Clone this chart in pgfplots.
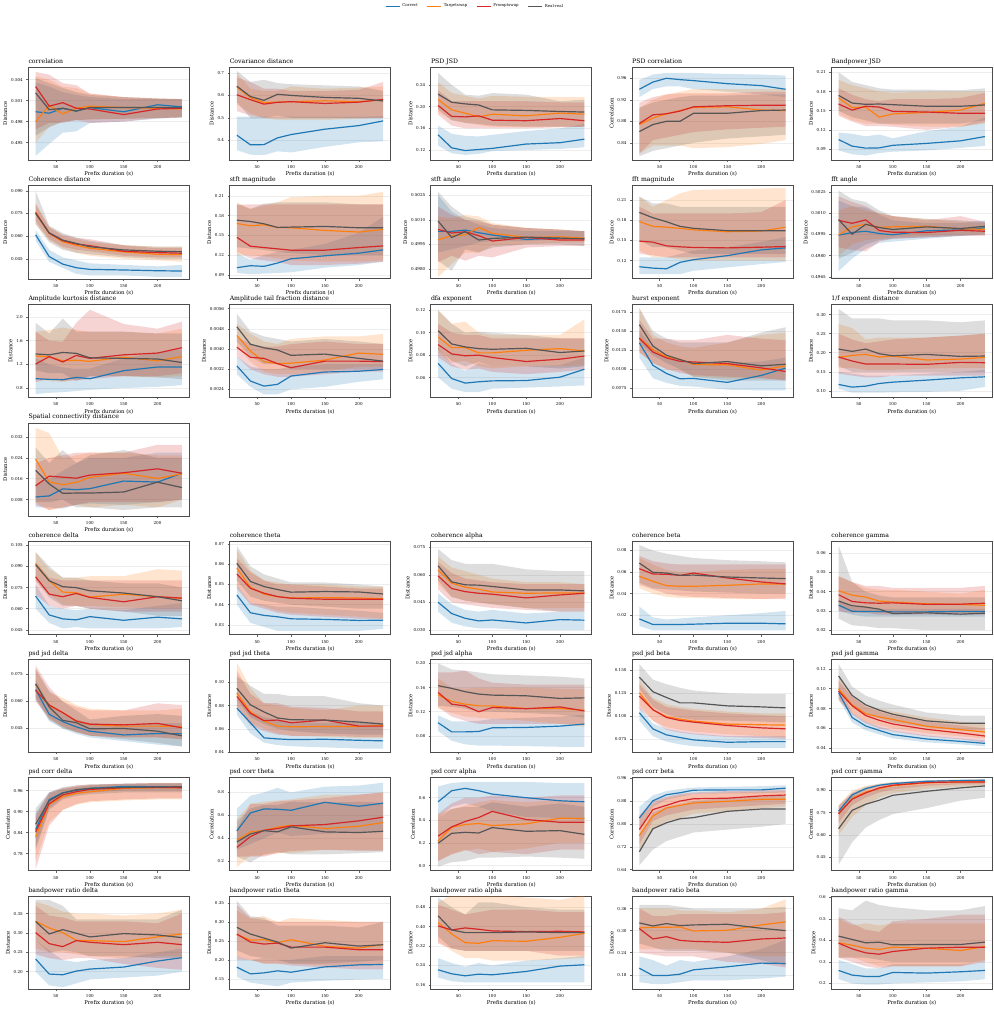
\documentclass[border=0pt]{standalone}
\usepackage{fontspec}
\setmainfont{DejaVu Serif}
\usepackage{pgfplots}
\usepackage{pgfplotstable}
\pgfplotsset{compat=1.18}
\usepgfplotslibrary{fillbetween}

\definecolor{cC}{HTML}{1F77B4}
\definecolor{cT}{HTML}{FF7F0E}
\definecolor{cP}{HTML}{D62728}
\definecolor{cR}{HTML}{555555}

\pgfplotsset{
  base/.style={
    width=161.5pt, height=93.4pt, scale only axis, anchor=north west,
    xmin=9.2, xmax=246.8, xtick={50,100,150,200},
    axis line style={draw=black!70, line width=0.8pt},
    tick style={draw=black!60, line width=0.5pt},
    tick align=outside, major tick length=2pt,
    xtick pos=lower, ytick pos=left,
    ymajorgrids, grid style={black!7, line width=0.5pt},
    tick label style={font=\fontsize{4.1}{4.5}\selectfont},
    label style={font=\fontsize{5.3}{6}\selectfont},
    xlabel={Prefix duration (s)},
    xlabel style={yshift=3.8pt},
    ylabel style={yshift=-3pt},
    every axis title/.style={at={(0,1)}, anchor=base west, yshift=4pt,
      inner sep=0pt, font=\fontsize{6.2}{7}\selectfont},
    /pgf/number format/assume math mode=true,
    scaled y ticks=false,
    legend image code/.code={\draw[#1] (0pt,0pt) -- (14pt,0pt);},
  },
  ln/.style={line width=1.2pt},
}

\newcommand{\band}[4]{%
  \addplot[draw=none, forget plot, name path=#2] table[x=x,y=#2]{#1};
  \addplot[draw=none, forget plot, name path=#3] table[x=x,y=#3]{#1};
  \addplot[fill=#4, fill opacity=0.2, draw=none, forget plot] fill between[of=#2 and #3];
}

% #1 left, #2 top, #3 title, #4 ylabel, #5 ymin, #6 ymax, #7 ticks, #8 table, #9 extra
\newcommand{\panel}[9]{%
  \begin{axis}[base, at={(#1pt,-#2pt)}, title={#3}, ylabel={#4},
    ymin=#5, ymax=#6, ytick={#7}, yticklabels={#7}, #9]
    \band{#8}{cl}{ch}{cC}
    \band{#8}{tl}{th}{cT}
    \band{#8}{pl}{ph}{cP}
    \band{#8}{rl}{rh}{cR}
    \addplot[ln, cC] table[x=x,y=c]{#8};
    \addplot[ln, cT] table[x=x,y=t]{#8};
    \addplot[ln, cP] table[x=x,y=p]{#8};
    \addplot[ln, cR] table[x=x,y=r]{#8};
  \end{axis}}

% columns: x c t p r cl ch tl th pl ph rl rh
\pgfplotstableread{
x c t p r cl ch tl th pl ph rl rh
20 0.4994 0.4980 0.5030 0.5021 0.4931 0.5036 0.4950 0.5045 0.4969 0.5051 0.4960 0.5042
40 0.4992 0.5003 0.5002 0.4997 0.4948 0.5030 0.4972 0.5040 0.4978 0.5047 0.4972 0.5035
60 0.4999 0.4991 0.5007 0.4999 0.4964 0.5022 0.4980 0.5030 0.4978 0.5035 0.4980 0.5028
80 0.4995 0.4999 0.4999 0.4995 0.4966 0.5018 0.4982 0.5028 0.4982 0.5032 0.4982 0.5022
100 0.5000 0.5002 0.4998 0.5000 0.4978 0.5015 0.4983 0.5020 0.4978 0.5020 0.4983 0.5018
150 0.4994 0.5000 0.4990 0.5000 0.4980 0.5012 0.4984 0.5015 0.4980 0.5015 0.4984 0.5015
200 0.5004 0.4999 0.4998 0.5000 0.4984 0.5012 0.4985 0.5013 0.4985 0.5013 0.4985 0.5013
236 0.5001 0.4998 0.4999 0.5000 0.4986 0.5012 0.4986 0.5012 0.4986 0.5012 0.4986 0.5012
}\dA
\pgfplotstableread{
x c t p r cl ch tl th pl ph rl rh
20 0.422 0.638 0.603 0.641 0.355 0.505 0.56 0.70 0.53 0.68 0.57 0.71
40 0.379 0.590 0.581 0.595 0.335 0.505 0.52 0.63 0.51 0.66 0.50 0.66
60 0.380 0.568 0.561 0.578 0.333 0.505 0.50 0.62 0.50 0.63 0.50 0.67
80 0.410 0.570 0.569 0.605 0.350 0.505 0.49 0.62 0.50 0.63 0.51 0.655
100 0.425 0.572 0.572 0.600 0.345 0.505 0.49 0.64 0.50 0.62 0.50 0.65
150 0.449 0.576 0.564 0.591 0.370 0.505 0.49 0.63 0.50 0.62 0.50 0.645
200 0.465 0.572 0.570 0.587 0.390 0.505 0.495 0.635 0.50 0.625 0.50 0.64
236 0.486 0.580 0.582 0.575 0.395 0.507 0.50 0.64 0.50 0.66 0.50 0.62
}\dB
\pgfplotstableread{
x c t p r cl ch tl th pl ph rl rh
20 0.148 0.213 0.202 0.223 0.128 0.165 0.19 0.245 0.185 0.23 0.195 0.262
40 0.124 0.194 0.182 0.208 0.114 0.150 0.175 0.225 0.165 0.21 0.175 0.24
60 0.119 0.188 0.181 0.205 0.111 0.146 0.17 0.22 0.16 0.21 0.17 0.222
80 0.121 0.181 0.183 0.203 0.113 0.145 0.166 0.215 0.16 0.21 0.168 0.22
100 0.123 0.186 0.175 0.194 0.118 0.148 0.163 0.22 0.16 0.21 0.165 0.225
150 0.131 0.183 0.174 0.193 0.120 0.155 0.162 0.218 0.16 0.21 0.163 0.222
200 0.1335 0.188 0.178 0.191 0.122 0.160 0.162 0.218 0.162 0.208 0.163 0.21
236 0.140 0.186 0.174 0.190 0.125 0.168 0.163 0.218 0.163 0.208 0.163 0.213
}\dC
\pgfplotstableread{
x c t p r cl ch tl th pl ph rl rh
20 0.9396 0.874 0.876 0.861 0.925 0.957 0.82 0.905 0.82 0.915 0.815 0.905
40 0.953 0.886 0.892 0.874 0.94 0.967 0.835 0.92 0.845 0.925 0.825 0.915
60 0.960 0.894 0.894 0.880 0.945 0.97 0.835 0.93 0.85 0.93 0.83 0.92
80 0.9575 0.900 0.899 0.880 0.945 0.97 0.835 0.935 0.855 0.932 0.835 0.925
100 0.9557 0.906 0.907 0.895 0.94 0.97 0.83 0.94 0.86 0.932 0.84 0.928
150 0.950 0.907 0.909 0.895 0.935 0.968 0.832 0.94 0.865 0.932 0.848 0.928
200 0.9464 0.901 0.910 0.900 0.93 0.967 0.838 0.94 0.868 0.935 0.852 0.93
236 0.9396 0.900 0.910 0.901 0.925 0.965 0.845 0.94 0.87 0.935 0.855 0.93
}\dD
\pgfplotstableread{
x c t p r cl ch tl th pl ph rl rh
20 0.105 0.170 0.1605 0.174 0.088 0.116 0.145 0.198 0.142 0.185 0.15 0.21
40 0.0947 0.155 0.151 0.162 0.082 0.114 0.135 0.19 0.133 0.175 0.14 0.195
60 0.0916 0.1557 0.157 0.160 0.080 0.110 0.13 0.185 0.126 0.168 0.135 0.19
80 0.092 0.140 0.1557 0.1605 0.084 0.113 0.13 0.18 0.126 0.165 0.13 0.185
100 0.096 0.145 0.149 0.1595 0.086 0.107 0.128 0.178 0.125 0.168 0.13 0.183
150 0.099 0.1474 0.148 0.157 0.088 0.118 0.125 0.18 0.12 0.168 0.13 0.183
200 0.103 0.151 0.146 0.157 0.092 0.125 0.125 0.18 0.125 0.17 0.13 0.182
236 0.1097 0.1614 0.146 0.159 0.095 0.14 0.13 0.18 0.132 0.178 0.135 0.185
}\dE
\pgfplotstableread{
x c t p r cl ch tl th pl ph rl rh
20 0.0609 0.076 0.0755 0.075 0.057 0.064 0.068 0.082 0.070 0.081 0.068 0.090
40 0.0465 0.0618 0.062 0.0622 0.043 0.051 0.057 0.066 0.058 0.066 0.056 0.067
60 0.0415 0.0563 0.057 0.0574 0.039 0.046 0.052 0.060 0.053 0.061 0.051 0.062
80 0.0391 0.0539 0.0548 0.0552 0.035 0.044 0.049 0.058 0.051 0.059 0.049 0.059
100 0.038 0.052 0.0537 0.053 0.034 0.042 0.047 0.056 0.050 0.058 0.048 0.057
150 0.0376 0.0496 0.050 0.0509 0.034 0.041 0.045 0.054 0.047 0.054 0.046 0.054
200 0.0371 0.048 0.0491 0.050 0.033 0.040 0.044 0.053 0.046 0.052 0.045 0.053
236 0.0369 0.0478 0.0487 0.0497 0.033 0.041 0.043 0.053 0.046 0.052 0.045 0.053
}\dF
\pgfplotstableread{
x c t p r cl ch tl th pl ph rl rh
20 0.101 0.168 0.147 0.173 0.093 0.123 0.12 0.20 0.125 0.196 0.132 0.198
40 0.104 0.1645 0.1335 0.171 0.091 0.113 0.12 0.19 0.115 0.197 0.13 0.19
60 0.103 0.166 0.1315 0.1675 0.092 0.12 0.118 0.195 0.112 0.197 0.128 0.198
80 0.108 0.162 0.1295 0.162 0.093 0.125 0.115 0.20 0.11 0.197 0.125 0.2
100 0.1145 0.1615 0.1275 0.1625 0.094 0.128 0.112 0.208 0.105 0.197 0.123 0.2
150 0.119 0.1575 0.1275 0.1635 0.101 0.137 0.11 0.21 0.105 0.197 0.12 0.2
200 0.123 0.155 0.1315 0.1615 0.105 0.154 0.11 0.21 0.107 0.197 0.12 0.197
236 0.128 0.159 0.134 0.1615 0.11 0.178 0.112 0.216 0.11 0.197 0.12 0.197
}\dG
\pgfplotstableread{
x c t p r cl ch tl th pl ph rl rh
20 0.50029 0.49978 0.50041 0.50092 0.4990 0.5025 0.4975 0.5012 0.4984 0.5018 0.4985 0.5027
40 0.50029 0.50003 0.50019 0.49992 0.4992 0.5015 0.4983 0.5011 0.4988 0.5013 0.4979 0.5018
60 0.50037 0.50007 0.50027 0.50027 0.4994 0.5010 0.4990 0.5013 0.4985 0.5010 0.4992 0.5012
80 0.50021 0.50053 0.50003 0.49976 0.4996 0.5007 0.4990 0.5012 0.4988 0.5009 0.4990 0.5010
100 0.50007 0.50017 0.49970 0.49986 0.4997 0.5005 0.4994 0.5008 0.4987 0.5007 0.4993 0.5007
150 0.49980 0.49992 0.49992 0.49994 0.4997 0.5003 0.4995 0.5005 0.4993 0.5005 0.4995 0.5005
200 0.49988 0.49996 0.49976 0.49988 0.4998 0.5003 0.4996 0.5004 0.4994 0.5004 0.4995 0.5004
236 0.49986 0.49988 0.49976 0.49984 0.4998 0.5003 0.4996 0.5003 0.4994 0.5003 0.4994 0.5003
}\dH
\pgfplotstableread{
x c t p r cl ch tl th pl ph rl rh
20 0.111 0.178 0.149 0.1916 0.10 0.125 0.135 0.215 0.13 0.20 0.15 0.215
40 0.109 0.171 0.1475 0.1837 0.10 0.125 0.125 0.20 0.128 0.19 0.14 0.205
60 0.108 0.1697 0.142 0.1778 0.10 0.125 0.125 0.21 0.125 0.19 0.14 0.205
80 0.1175 0.168 0.1406 0.1709 0.10 0.13 0.122 0.22 0.125 0.19 0.135 0.2
100 0.1215 0.1657 0.1396 0.168 0.105 0.135 0.12 0.225 0.125 0.19 0.13 0.2
150 0.1275 0.163 0.139 0.1645 0.11 0.14 0.12 0.226 0.125 0.19 0.13 0.2
200 0.136 0.164 0.140 0.1645 0.115 0.148 0.12 0.227 0.125 0.192 0.13 0.2
236 0.139 0.1697 0.141 0.1645 0.118 0.155 0.12 0.228 0.125 0.21 0.13 0.2
}\dI
\pgfplotstableread{
x c t p r cl ch tl th pl ph rl rh
20 0.49945 0.49948 0.50050 0.50055 0.4969 0.5019 0.4980 0.5012 0.4986 0.5022 0.4978 0.5026
40 0.49964 0.50004 0.50029 0.49952 0.4978 0.5015 0.4988 0.5015 0.4984 0.5018 0.4982 0.5020
60 0.49973 0.50022 0.50053 0.50022 0.4985 0.5014 0.4991 0.5012 0.4983 0.5015 0.4988 0.5018
80 0.49957 0.50001 0.49978 0.49999 0.4989 0.5009 0.4992 0.5010 0.4990 0.5010 0.4991 0.5012
100 0.49948 0.50004 0.49966 0.49985 0.4990 0.5005 0.4993 0.5008 0.4992 0.5008 0.4992 0.5008
150 0.49976 0.50008 0.49964 0.50004 0.4992 0.5003 0.4994 0.5006 0.4993 0.5005 0.4993 0.5006
200 0.49983 0.49990 0.49980 0.49992 0.4994 0.5003 0.4995 0.5004 0.4994 0.5008 0.4994 0.5005
236 0.49997 0.49987 0.49973 0.50008 0.4995 0.5005 0.4995 0.5003 0.4994 0.5004 0.4995 0.5004
}\dJ
\pgfplotstableread{
x c t p r cl ch tl th pl ph rl rh
20 0.958 1.34 1.205 1.375 0.70 1.30 0.95 1.75 0.90 1.75 1.10 1.90
40 0.947 1.33 1.33 1.36 0.72 1.20 0.92 1.78 0.95 1.60 1.05 1.72
60 0.941 1.26 1.24 1.40 0.73 1.15 0.90 1.82 0.92 1.58 1.05 1.97
80 0.98 1.27 1.35 1.385 0.75 1.12 0.95 1.78 0.93 1.90 0.92 1.75
100 0.958 1.25 1.30 1.31 0.77 1.13 1.00 1.75 0.95 2.12 1.00 1.75
150 1.093 1.32 1.36 1.30 0.80 1.30 1.00 1.75 1.00 1.88 1.00 1.75
200 1.155 1.26 1.39 1.29 0.82 1.40 0.98 1.72 1.00 1.80 0.98 1.72
236 1.155 1.33 1.48 1.23 0.85 1.45 1.00 1.80 1.05 1.92 0.95 1.72
}\dK
\pgfplotstableread{
x c t p r cl ch tl th pl ph rl rh
20 0.00333 0.00454 0.00407 0.00488 0.0030 0.0037 0.0041 0.0050 0.0037 0.0045 0.0043 0.0054
40 0.00273 0.00392 0.00367 0.00419 0.0025 0.0033 0.0035 0.0046 0.0032 0.0042 0.0037 0.0047
60 0.00253 0.0035 0.00363 0.00405 0.0022 0.0032 0.0031 0.0043 0.0030 0.0041 0.0034 0.0045
80 0.0026 0.00342 0.00342 0.00396 0.0022 0.0032 0.0030 0.0042 0.0029 0.0041 0.0034 0.0044
100 0.00293 0.00344 0.00326 0.00375 0.0024 0.0033 0.0030 0.0044 0.0029 0.0042 0.0032 0.0043
150 0.00309 0.00356 0.00352 0.0038 0.0025 0.0034 0.0031 0.0045 0.0030 0.0043 0.0032 0.0044
200 0.00312 0.00384 0.00352 0.00363 0.0027 0.0034 0.0033 0.0045 0.0031 0.0042 0.0032 0.0043
236 0.00319 0.00379 0.0035 0.00352 0.0028 0.0034 0.0033 0.0046 0.0031 0.0042 0.0032 0.0042
}\dL
\pgfplotstableread{
x c t p r cl ch tl th pl ph rl rh
20 0.0726 0.0962 0.0894 0.1018 0.060 0.087 0.082 0.12 0.078 0.108 0.085 0.12
40 0.0591 0.0867 0.0811 0.09 0.050 0.072 0.073 0.108 0.070 0.10 0.075 0.108
60 0.055 0.0867 0.0794 0.0873 0.047 0.066 0.075 0.110 0.067 0.098 0.070 0.10
80 0.0562 0.082 0.08 0.0858 0.047 0.073 0.070 0.100 0.068 0.098 0.074 0.101
100 0.057 0.082 0.0779 0.0852 0.050 0.070 0.068 0.098 0.065 0.095 0.070 0.10
150 0.0573 0.0843 0.0743 0.0861 0.051 0.070 0.070 0.098 0.063 0.095 0.070 0.098
200 0.0603 0.0858 0.0764 0.0823 0.052 0.071 0.070 0.098 0.065 0.095 0.068 0.095
236 0.0674 0.0837 0.0791 0.0837 0.053 0.078 0.071 0.112 0.067 0.095 0.070 0.095
}\dM
\pgfplotstableread{
x c t p r cl ch tl th pl ph rl rh
20 0.01345 0.0141 0.01404 0.01584 0.0115 0.0150 0.0122 0.0180 0.0122 0.0165 0.0135 0.0180
40 0.0105 0.01256 0.01225 0.01304 0.0088 0.0128 0.0108 0.0145 0.0108 0.0140 0.0118 0.0150
60 0.00943 0.0116 0.01147 0.01182 0.0082 0.0115 0.0100 0.0135 0.0100 0.0140 0.0108 0.0140
80 0.00873 0.0113 0.01103 0.01125 0.0078 0.0110 0.0098 0.0130 0.0095 0.0138 0.0100 0.0135
100 0.00878 0.0106 0.01094 0.01073 0.0077 0.0108 0.0090 0.0128 0.0092 0.0138 0.0090 0.0135
150 0.00826 0.01057 0.01073 0.01099 0.0073 0.0108 0.0088 0.0135 0.0090 0.0145 0.0085 0.0135
200 0.00917 0.00987 0.01016 0.01043 0.0072 0.0110 0.0088 0.0145 0.0088 0.0140 0.0085 0.0148
236 0.01013 0.01043 0.00969 0.01064 0.0072 0.0115 0.0086 0.0148 0.0085 0.0138 0.0085 0.0155
}\dN
\pgfplotstableread{
x c t p r cl ch tl th pl ph rl rh
20 0.1166 0.1878 0.1887 0.2096 0.105 0.15 0.16 0.275 0.145 0.25 0.165 0.315
40 0.1096 0.193 0.1782 0.2035 0.095 0.145 0.16 0.265 0.14 0.235 0.15 0.29
60 0.1122 0.1956 0.1703 0.2096 0.095 0.140 0.155 0.235 0.135 0.225 0.15 0.29
80 0.1192 0.1887 0.1703 0.1974 0.095 0.140 0.155 0.24 0.135 0.23 0.15 0.29
100 0.1227 0.1913 0.1703 0.1921 0.096 0.140 0.155 0.24 0.14 0.235 0.15 0.285
150 0.128 0.1808 0.1695 0.1956 0.097 0.145 0.158 0.24 0.14 0.24 0.15 0.285
200 0.134 0.1834 0.1747 0.1904 0.100 0.150 0.16 0.245 0.14 0.245 0.15 0.28
236 0.1367 0.1878 0.1738 0.1913 0.110 0.155 0.16 0.25 0.14 0.25 0.15 0.285
}\dO
\pgfplotstableread{
x c t p r cl ch tl th pl ph rl rh
20 0.009 0.0235 0.0133 0.0192 0.005 0.014 0.007 0.0355 0.006 0.022 0.007 0.028
40 0.0094 0.0148 0.017 0.014 0.005 0.016 0.004 0.0335 0.004 0.024 0.007 0.022
60 0.0121 0.0137 0.0166 0.0104 0.0045 0.019 0.005 0.024 0.005 0.025 0.008 0.027
80 0.0118 0.0146 0.0162 0.0105 0.006 0.022 0.006 0.025 0.006 0.026 0.005 0.022
100 0.0122 0.0165 0.0174 0.0105 0.0065 0.024 0.005 0.026 0.007 0.026 0.005 0.025
150 0.0151 0.0181 0.0183 0.0109 0.006 0.024 0.006 0.026 0.007 0.026 0.004 0.027
200 0.0147 0.0161 0.0198 0.0147 0.007 0.026 0.005 0.025 0.007 0.029 0.005 0.024
236 0.0181 0.0179 0.0181 0.0126 0.008 0.026 0.008 0.025 0.008 0.029 0.005 0.024
}\dP
\pgfplotstableread{
x c t p r cl ch tl th pl ph rl rh
20 0.0689 0.0919 0.0826 0.0912 0.060 0.077 0.080 0.100 0.070 0.093 0.080 0.100
40 0.0556 0.0798 0.0703 0.0798 0.050 0.062 0.070 0.088 0.062 0.082 0.068 0.090
60 0.0528 0.0718 0.0685 0.0756 0.046 0.060 0.063 0.082 0.060 0.080 0.062 0.082
80 0.0521 0.0713 0.0708 0.0749 0.047 0.059 0.062 0.082 0.062 0.080 0.062 0.082
100 0.0544 0.0682 0.068 0.0727 0.046 0.060 0.062 0.083 0.060 0.080 0.060 0.080
150 0.0518 0.0703 0.0649 0.0711 0.046 0.059 0.061 0.083 0.058 0.080 0.058 0.078
200 0.054 0.0685 0.0685 0.0685 0.046 0.062 0.060 0.088 0.058 0.080 0.055 0.078
236 0.0528 0.0673 0.0675 0.0656 0.047 0.064 0.060 0.087 0.058 0.080 0.055 0.075
}\dQ
\pgfplotstableread{
x c t p r cl ch tl th pl ph rl rh
20 0.0448 0.0581 0.0552 0.0605 0.040 0.050 0.050 0.067 0.048 0.063 0.052 0.069
40 0.0360 0.0486 0.0481 0.0515 0.031 0.041 0.041 0.057 0.040 0.056 0.044 0.059
60 0.0347 0.0452 0.0457 0.049 0.029 0.040 0.039 0.052 0.038 0.052 0.042 0.055
80 0.0340 0.044 0.044 0.0475 0.027 0.039 0.037 0.051 0.036 0.050 0.041 0.053
100 0.0330 0.0433 0.0432 0.0462 0.027 0.039 0.036 0.050 0.035 0.050 0.040 0.051
150 0.0327 0.0435 0.0427 0.0465 0.027 0.038 0.035 0.050 0.034 0.049 0.039 0.051
200 0.0322 0.0433 0.0427 0.0463 0.027 0.037 0.034 0.049 0.033 0.048 0.038 0.050
236 0.0323 0.043 0.0427 0.0453 0.028 0.036 0.033 0.049 0.033 0.048 0.038 0.049
}\dR
\pgfplotstableread{
x c t p r cl ch tl th pl ph rl rh
20 0.0451 0.0627 0.0594 0.0649 0.040 0.050 0.055 0.070 0.052 0.067 0.057 0.074
40 0.0390 0.0555 0.0526 0.0562 0.034 0.044 0.048 0.064 0.045 0.061 0.048 0.068
60 0.0364 0.0533 0.0509 0.0546 0.032 0.041 0.046 0.062 0.044 0.058 0.046 0.066
80 0.0350 0.0522 0.0500 0.0544 0.031 0.040 0.045 0.060 0.043 0.057 0.045 0.066
100 0.0355 0.0507 0.0495 0.0537 0.031 0.041 0.044 0.058 0.042 0.056 0.044 0.066
150 0.0339 0.0500 0.0475 0.0518 0.030 0.039 0.042 0.056 0.041 0.055 0.042 0.063
200 0.0357 0.0502 0.0491 0.0518 0.030 0.040 0.042 0.056 0.040 0.055 0.040 0.062
236 0.0354 0.0502 0.0500 0.0513 0.030 0.040 0.042 0.055 0.040 0.055 0.040 0.062
}\dS
\pgfplotstableread{
x c t p r cl ch tl th pl ph rl rh
20 0.0166 0.056 0.0631 0.0683 0.010 0.028 0.045 0.073 0.048 0.075 0.050 0.085
40 0.0114 0.0514 0.0582 0.0597 0.006 0.018 0.040 0.067 0.044 0.070 0.045 0.080
60 0.0114 0.0474 0.0579 0.0591 0.006 0.016 0.037 0.062 0.040 0.068 0.044 0.077
80 0.0114 0.0468 0.0569 0.0569 0.006 0.017 0.036 0.060 0.038 0.067 0.043 0.075
100 0.0117 0.0468 0.0591 0.0572 0.006 0.018 0.036 0.060 0.037 0.067 0.042 0.073
150 0.0126 0.0477 0.0545 0.0554 0.006 0.020 0.035 0.062 0.036 0.067 0.041 0.071
200 0.0126 0.049 0.0508 0.0545 0.006 0.022 0.035 0.063 0.035 0.067 0.040 0.070
236 0.012 0.049 0.049 0.0539 0.006 0.024 0.036 0.063 0.035 0.067 0.040 0.069
}\dT
\pgfplotstableread{
x c t p r cl ch tl th pl ph rl rh
20 0.033 0.0405 0.0384 0.0351 0.030 0.036 0.032 0.048 0.030 0.048 0.026 0.064
40 0.0298 0.0382 0.0349 0.0327 0.028 0.032 0.030 0.045 0.029 0.045 0.0225 0.045
60 0.0297 0.0372 0.0342 0.032 0.027 0.032 0.030 0.042 0.029 0.043 0.022 0.040
80 0.0297 0.0351 0.034 0.0309 0.027 0.031 0.029 0.041 0.028 0.043 0.021 0.038
100 0.0295 0.0346 0.0342 0.0286 0.027 0.031 0.029 0.041 0.028 0.042 0.021 0.037
150 0.0295 0.0337 0.0334 0.029 0.027 0.031 0.029 0.040 0.028 0.042 0.020 0.037
200 0.0297 0.0334 0.0335 0.0283 0.027 0.031 0.029 0.039 0.028 0.042 0.020 0.037
236 0.0297 0.0329 0.034 0.0288 0.027 0.031 0.029 0.041 0.028 0.043 0.020 0.037
}\dU
\pgfplotstableread{
x c t p r cl ch tl th pl ph rl rh
20 0.0666 0.0692 0.0662 0.0698 0.061 0.072 0.062 0.078 0.060 0.080 0.062 0.078
40 0.0529 0.0576 0.0581 0.057 0.049 0.058 0.050 0.065 0.051 0.068 0.050 0.066
60 0.0488 0.0538 0.0538 0.0495 0.045 0.053 0.046 0.062 0.046 0.060 0.045 0.060
80 0.0459 0.0491 0.0491 0.0482 0.042 0.050 0.043 0.058 0.043 0.057 0.043 0.055
100 0.0435 0.0472 0.0474 0.0448 0.040 0.048 0.041 0.056 0.041 0.055 0.041 0.050
150 0.0414 0.0463 0.047 0.045 0.038 0.047 0.040 0.055 0.040 0.055 0.039 0.052
200 0.0422 0.0463 0.0478 0.0435 0.036 0.048 0.040 0.055 0.040 0.059 0.037 0.053
236 0.042 0.0461 0.0454 0.0409 0.035 0.048 0.039 0.056 0.039 0.058 0.035 0.052
}\dV
\pgfplotstableread{
x c t p r cl ch tl th pl ph rl rh
20 0.0777 0.0907 0.0878 0.0948 0.072 0.085 0.080 0.117 0.078 0.110 0.085 0.105
40 0.0652 0.0745 0.0733 0.0806 0.056 0.075 0.065 0.095 0.063 0.090 0.070 0.097
60 0.0522 0.0667 0.067 0.0745 0.048 0.070 0.060 0.082 0.058 0.082 0.064 0.090
80 0.0513 0.0623 0.0675 0.0693 0.046 0.068 0.056 0.080 0.055 0.082 0.060 0.090
100 0.0507 0.0617 0.0652 0.0678 0.045 0.066 0.054 0.078 0.054 0.079 0.058 0.088
150 0.051 0.062 0.0675 0.0675 0.044 0.065 0.053 0.076 0.054 0.078 0.056 0.088
200 0.0501 0.062 0.0623 0.0658 0.043 0.066 0.052 0.080 0.053 0.075 0.055 0.082
236 0.0496 0.0629 0.0623 0.064 0.043 0.065 0.052 0.080 0.053 0.075 0.055 0.080
}\dW
\pgfplotstableread{
x c t p r cl ch tl th pl ph rl rh
20 0.1018 0.148 0.152 0.1632 0.088 0.114 0.125 0.175 0.128 0.185 0.13 0.20
40 0.0867 0.137 0.1325 0.1587 0.072 0.104 0.118 0.16 0.112 0.185 0.128 0.19
60 0.0867 0.1325 0.1297 0.1531 0.066 0.104 0.112 0.158 0.105 0.188 0.125 0.188
80 0.0873 0.1297 0.120 0.1492 0.064 0.105 0.110 0.16 0.100 0.175 0.12 0.185
100 0.0934 0.1297 0.127 0.1475 0.064 0.108 0.108 0.16 0.100 0.168 0.12 0.182
150 0.094 0.1253 0.125 0.1464 0.063 0.110 0.105 0.16 0.100 0.165 0.118 0.18
200 0.0962 0.1253 0.128 0.142 0.062 0.112 0.100 0.158 0.100 0.165 0.115 0.178
236 0.0996 0.1225 0.1213 0.143 0.062 0.115 0.095 0.158 0.098 0.165 0.11 0.175
}\dX
\pgfplotstableread{
x c t p r cl ch tl th pl ph rl rh
20 0.1037 0.1256 0.122 0.1426 0.095 0.110 0.112 0.140 0.108 0.135 0.13 0.157
40 0.086 0.107 0.107 0.1267 0.078 0.092 0.095 0.120 0.095 0.118 0.11 0.14
60 0.0794 0.0993 0.0985 0.1204 0.072 0.086 0.088 0.113 0.085 0.110 0.102 0.135
80 0.0765 0.0967 0.0952 0.1145 0.069 0.083 0.085 0.110 0.082 0.108 0.098 0.131
100 0.0739 0.0945 0.0934 0.1145 0.067 0.081 0.083 0.108 0.080 0.106 0.096 0.128
150 0.0713 0.0912 0.0897 0.1112 0.065 0.078 0.080 0.105 0.077 0.103 0.095 0.125
200 0.072 0.0905 0.0871 0.1101 0.065 0.078 0.078 0.103 0.076 0.101 0.094 0.124
236 0.072 0.0901 0.086 0.109 0.065 0.078 0.077 0.103 0.075 0.100 0.093 0.124
}\dY
\pgfplotstableread{
x c t p r cl ch tl th pl ph rl rh
20 0.096 0.0997 0.0976 0.1128 0.090 0.102 0.090 0.112 0.088 0.108 0.100 0.125
40 0.071 0.0838 0.0828 0.0932 0.066 0.076 0.076 0.092 0.074 0.092 0.084 0.102
60 0.0625 0.0747 0.073 0.0838 0.058 0.067 0.067 0.083 0.065 0.082 0.075 0.093
80 0.058 0.0716 0.0682 0.0784 0.054 0.062 0.063 0.080 0.060 0.077 0.070 0.088
100 0.0538 0.069 0.0645 0.0743 0.050 0.058 0.060 0.077 0.057 0.073 0.066 0.084
150 0.0494 0.0622 0.0591 0.0676 0.046 0.053 0.055 0.071 0.052 0.067 0.061 0.076
200 0.047 0.0588 0.0554 0.0652 0.044 0.050 0.052 0.067 0.049 0.063 0.058 0.073
236 0.045 0.0564 0.0524 0.0652 0.042 0.048 0.050 0.064 0.046 0.060 0.058 0.073
}\dZ
\pgfplotstableread{
x c t p r cl ch tl th pl ph rl rh
20 0.8487 0.8275 0.842 0.864 0.80 0.895 0.76 0.88 0.735 0.89 0.79 0.91
40 0.935 0.9209 0.923 0.9311 0.91 0.955 0.87 0.95 0.86 0.955 0.905 0.955
60 0.9542 0.943 0.948 0.9533 0.94 0.965 0.905 0.965 0.905 0.968 0.935 0.97
80 0.961 0.9523 0.9571 0.963 0.95 0.97 0.92 0.972 0.922 0.975 0.945 0.975
100 0.9667 0.957 0.9638 0.9667 0.955 0.975 0.927 0.976 0.93 0.978 0.95 0.978
150 0.9725 0.9667 0.9686 0.9696 0.96 0.98 0.932 0.98 0.935 0.98 0.955 0.98
200 0.9715 0.9686 0.9696 0.9706 0.96 0.98 0.935 0.982 0.938 0.982 0.955 0.982
236 0.9706 0.9686 0.9686 0.9715 0.96 0.98 0.935 0.982 0.938 0.982 0.955 0.982
}\dAA
\pgfplotstableread{
x c t p r cl ch tl th pl ph rl rh
20 0.4645 0.382 0.321 0.368 0.30 0.66 0.15 0.57 0.24 0.48 0.24 0.55
40 0.6207 0.456 0.415 0.438 0.35 0.77 0.25 0.70 0.24 0.70 0.19 0.66
60 0.656 0.467 0.47 0.467 0.40 0.80 0.25 0.72 0.24 0.70 0.26 0.69
80 0.653 0.497 0.485 0.456 0.45 0.84 0.27 0.73 0.27 0.72 0.28 0.69
100 0.644 0.514 0.508 0.50 0.42 0.80 0.27 0.74 0.29 0.73 0.26 0.72
150 0.714 0.485 0.52 0.456 0.44 0.85 0.30 0.78 0.30 0.75 0.26 0.71
200 0.679 0.505 0.552 0.45 0.45 0.86 0.30 0.78 0.29 0.78 0.27 0.72
236 0.706 0.537 0.584 0.461 0.46 0.885 0.30 0.80 0.29 0.80 0.28 0.71
}\dAB
\pgfplotstableread{
x c t p r cl ch tl th pl ph rl rh
20 0.564 0.218 0.26 0.198 0.42 0.70 0.04 0.45 0.04 0.46 -0.01 0.42
40 0.662 0.339 0.342 0.285 0.52 0.73 0.10 0.50 0.10 0.55 0.03 0.50
60 0.683 0.363 0.39 0.294 0.55 0.74 0.13 0.53 0.14 0.60 0.04 0.52
80 0.662 0.372 0.425 0.288 0.52 0.74 0.15 0.56 0.10 0.60 0.07 0.52
100 0.632 0.354 0.479 0.336 0.48 0.74 0.12 0.58 0.12 0.62 0.07 0.56
150 0.60 0.369 0.407 0.303 0.43 0.74 0.15 0.56 0.10 0.60 0.08 0.52
200 0.573 0.419 0.383 0.309 0.42 0.73 0.20 0.58 0.14 0.62 0.07 0.55
236 0.564 0.416 0.383 0.276 0.40 0.73 0.20 0.55 0.14 0.62 0.06 0.52
}\dAC
\pgfplotstableread{
x c t p r cl ch tl th pl ph rl rh
20 0.8206 0.7597 0.7807 0.7026 0.78 0.86 0.70 0.82 0.73 0.83 0.655 0.76
40 0.881 0.8276 0.85 0.783 0.86 0.90 0.78 0.87 0.81 0.88 0.71 0.84
60 0.902 0.8555 0.865 0.804 0.885 0.915 0.81 0.89 0.83 0.895 0.74 0.86
80 0.909 0.865 0.88 0.818 0.895 0.922 0.82 0.90 0.84 0.905 0.755 0.87
100 0.918 0.873 0.888 0.822 0.905 0.927 0.835 0.905 0.85 0.91 0.77 0.88
150 0.919 0.879 0.890 0.844 0.907 0.93 0.845 0.91 0.858 0.915 0.78 0.89
200 0.919 0.886 0.898 0.852 0.907 0.932 0.855 0.912 0.865 0.918 0.79 0.895
236 0.925 0.886 0.901 0.852 0.91 0.935 0.86 0.915 0.87 0.92 0.80 0.9
}\dAD
\pgfplotstableread{
x c t p r cl ch tl th pl ph rl rh
20 0.759 0.743 0.743 0.642 0.73 0.79 0.60 0.80 0.68 0.80 0.40 0.77
40 0.869 0.844 0.84 0.765 0.85 0.885 0.72 0.90 0.80 0.88 0.55 0.86
60 0.911 0.889 0.882 0.806 0.90 0.925 0.80 0.93 0.85 0.915 0.65 0.89
80 0.934 0.911 0.916 0.833 0.925 0.943 0.85 0.945 0.885 0.935 0.70 0.91
100 0.945 0.931 0.934 0.866 0.937 0.953 0.88 0.955 0.905 0.95 0.74 0.925
150 0.960 0.949 0.952 0.893 0.952 0.968 0.91 0.965 0.93 0.965 0.78 0.94
200 0.965 0.956 0.956 0.916 0.958 0.972 0.925 0.97 0.94 0.97 0.83 0.95
236 0.967 0.958 0.956 0.929 0.96 0.975 0.93 0.972 0.94 0.972 0.85 0.955
}\dAE
\pgfplotstableread{
x c t p r cl ch tl th pl ph rl rh
20 0.2328 0.330 0.3009 0.3293 0.20 0.28 0.26 0.38 0.245 0.37 0.28 0.385
40 0.194 0.3129 0.2724 0.2974 0.165 0.255 0.25 0.37 0.235 0.345 0.25 0.385
60 0.1922 0.3009 0.2647 0.3086 0.16 0.23 0.25 0.355 0.23 0.34 0.255 0.37
80 0.2017 0.281 0.2802 0.2991 0.17 0.225 0.245 0.35 0.235 0.33 0.25 0.335
100 0.2069 0.2802 0.2759 0.2897 0.18 0.23 0.24 0.35 0.235 0.33 0.24 0.335
150 0.2121 0.2776 0.2698 0.2983 0.185 0.235 0.235 0.345 0.22 0.33 0.24 0.335
200 0.2276 0.2897 0.2759 0.2948 0.19 0.25 0.24 0.35 0.21 0.325 0.235 0.335
236 0.2362 0.2974 0.2698 0.2879 0.20 0.26 0.24 0.36 0.205 0.35 0.235 0.36
}\dAF
\pgfplotstableread{
x c t p r cl ch tl th pl ph rl rh
20 0.1806 0.2661 0.2679 0.2855 0.155 0.21 0.21 0.33 0.20 0.345 0.225 0.355
40 0.163 0.252 0.2467 0.2679 0.14 0.20 0.20 0.31 0.20 0.31 0.21 0.315
60 0.1657 0.2529 0.2414 0.2573 0.135 0.205 0.19 0.315 0.19 0.305 0.205 0.31
80 0.171 0.2450 0.2441 0.2467 0.13 0.20 0.19 0.30 0.19 0.30 0.20 0.29
100 0.1674 0.2529 0.2335 0.2309 0.14 0.20 0.19 0.31 0.185 0.30 0.19 0.29
150 0.1815 0.2353 0.2335 0.245 0.145 0.21 0.185 0.305 0.18 0.30 0.19 0.29
200 0.1868 0.2309 0.2265 0.2362 0.148 0.21 0.185 0.30 0.175 0.30 0.195 0.285
236 0.1877 0.2406 0.2265 0.2397 0.15 0.21 0.19 0.30 0.175 0.30 0.20 0.30
}\dAG
\pgfplotstableread{
x c t p r cl ch tl th pl ph rl rh
20 0.222 0.4166 0.4028 0.4442 0.19 0.27 0.34 0.50 0.33 0.49 0.36 0.52
40 0.2055 0.3697 0.3862 0.3862 0.175 0.25 0.30 0.53 0.31 0.47 0.31 0.48
60 0.1972 0.3338 0.3945 0.3752 0.17 0.235 0.27 0.53 0.30 0.45 0.30 0.45
80 0.204 0.331 0.389 0.3752 0.17 0.25 0.27 0.53 0.30 0.46 0.30 0.50
100 0.2013 0.342 0.3821 0.3752 0.17 0.24 0.26 0.53 0.30 0.47 0.30 0.50
150 0.2151 0.3393 0.3793 0.378 0.17 0.26 0.26 0.52 0.30 0.47 0.30 0.48
200 0.2372 0.3559 0.3807 0.3752 0.17 0.27 0.265 0.51 0.28 0.46 0.30 0.47
236 0.2428 0.3724 0.378 0.3752 0.17 0.28 0.27 0.53 0.28 0.46 0.30 0.47
}\dAH
\pgfplotstableread{
x c t p r cl ch tl th pl ph rl rh
20 0.198 0.3073 0.3055 0.3209 0.16 0.23 0.25 0.36 0.24 0.36 0.265 0.37
40 0.178 0.3091 0.2773 0.3127 0.155 0.22 0.25 0.36 0.235 0.34 0.255 0.37
60 0.178 0.3091 0.2836 0.3191 0.155 0.205 0.25 0.36 0.23 0.34 0.245 0.37
80 0.1818 0.31 0.2736 0.3136 0.16 0.22 0.25 0.355 0.23 0.345 0.245 0.365
100 0.1936 0.2991 0.2709 0.3155 0.165 0.215 0.25 0.355 0.23 0.345 0.245 0.36
150 0.2018 0.3009 0.2682 0.3173 0.165 0.23 0.24 0.35 0.215 0.345 0.24 0.36
200 0.2118 0.3155 0.2773 0.3064 0.17 0.25 0.23 0.36 0.21 0.345 0.22 0.36
236 0.2109 0.3236 0.28 0.30 0.175 0.275 0.23 0.385 0.20 0.35 0.205 0.365
}\dAI
\pgfplotstableread{
x c t p r cl ch tl th pl ph rl rh
20 0.2607 0.3891 0.3876 0.4202 0.22 0.31 0.32 0.50 0.32 0.51 0.32 0.55
40 0.239 0.3782 0.3611 0.4047 0.20 0.29 0.32 0.47 0.30 0.48 0.32 0.54
60 0.2327 0.3642 0.3424 0.3891 0.195 0.27 0.30 0.48 0.28 0.45 0.32 0.585
80 0.2327 0.358 0.3362 0.3922 0.195 0.27 0.28 0.47 0.27 0.44 0.31 0.565
100 0.2514 0.3689 0.3486 0.3798 0.20 0.29 0.28 0.48 0.28 0.49 0.30 0.555
150 0.2483 0.3642 0.3642 0.3813 0.205 0.29 0.28 0.48 0.28 0.50 0.30 0.54
200 0.2545 0.3533 0.3689 0.3813 0.21 0.29 0.28 0.48 0.28 0.52 0.30 0.54
236 0.2607 0.372 0.3689 0.3922 0.22 0.30 0.31 0.48 0.30 0.52 0.30 0.56
}\dAJ

\begin{document}
\begin{tikzpicture}
\path (0pt,0pt) rectangle (996pt,-1009pt);

% row 1
\panel{27}{65.7}{correlation}{Distance}{0.4925}{0.5058}{0.495,0.498,0.501,0.504}{\dA}{%
  legend entries={Correct,Targetswap,Promptswap,Real-real},
  legend style={at={(2.777,1.653)}, anchor=center, draw=none, fill=none,
    legend columns=4, font=\fontsize{4}{5}\selectfont,
    /tikz/every even column/.append style={column sep=7pt}}}
\panel{229}{65.7}{Covariance distance}{Distance}{0.311}{0.727}{0.4,0.5,0.6,0.7}{\dB}{}
\panel{431}{65.7}{PSD JSD}{Distance}{0.1015}{0.273}{0.12,0.16,0.20,0.24}{\dC}{}
\panel{633}{65.7}{PSD correlation}{Correlation}{0.808}{0.981}{0.84,0.88,0.92,0.96}{\dD}{}
\panel{833}{65.7}{Bandpower JSD}{Distance}{0.073}{0.2183}{0.09,0.12,0.15,0.18,0.21}{\dE}{}
% row 2
\panel{27}{185}{Coherence distance}{Distance}{0.0317}{0.0933}{0.045,0.060,0.075,0.090}{\dF}{}
\panel{229}{185}{stft magnitude}{Distance}{0.084}{0.225}{0.09,0.12,0.15,0.18,0.21}{\dG}{}
\panel{431}{185}{stft angle}{Distance}{0.49739}{0.50307}{0.4980,0.4995,0.5010,0.5025}{\dH}{}
\panel{633}{185}{fft magnitude}{Distance}{0.093}{0.231}{0.12,0.15,0.18,0.21}{\dI}{}
\panel{833}{185}{fft angle}{Distance}{0.49636}{0.50294}{0.4965,0.4980,0.4995,0.5010,0.5025}{\dJ}{}
% row 3
\panel{27}{304}{Amplitude kurtosis distance}{Distance}{0.642}{2.21}{0.8,1.2,1.6,2.0}{\dK}{}
\panel{229}{304}{Amplitude tail fraction distance}{Distance}{0.00208}{0.00577}{0.0024,0.0032,0.0040,0.0048,0.0056}{\dL}{}
\panel{431}{304}{dfa exponent}{Distance}{0.0422}{0.1253}{0.06,0.08,0.10,0.12}{\dM}{}
\panel{633}{304}{hurst exponent}{Distance}{0.00628}{0.0185}{0.0075,0.0100,0.0125,0.0150,0.0175}{\dN}{}
\panel{833}{304}{1/f exponent distance}{Distance}{0.0825}{0.327}{0.10,0.15,0.20,0.25,0.30}{\dO}{}
% row 4
\panel{27}{423}{Spatial connectivity distance}{Distance}{0.0017}{0.0374}{0.008,0.016,0.024,0.032}{\dP}{}
% row 5
\panel{27}{542}{coherence delta}{Distance}{0.0417}{0.1076}{0.045,0.060,0.075,0.090,0.105}{\dQ}{}
\panel{229}{542}{coherence theta}{Distance}{0.0252}{0.0713}{0.03,0.04,0.05,0.06,0.07}{\dR}{}
\panel{431}{542}{coherence alpha}{Distance}{0.0276}{0.0781}{0.030,0.045,0.060,0.075}{\dS}{}
\panel{633}{542}{coherence beta}{Distance}{0.0021}{0.0883}{0.02,0.04,0.06,0.08}{\dT}{}
\panel{833}{542}{coherence gamma}{Distance}{0.0177}{0.0661}{0.02,0.03,0.04,0.05,0.06}{\dU}{}
% row 6
\panel{27}{660.3}{psd jsd delta}{Distance}{0.0317}{0.0834}{0.045,0.060,0.075}{\dV}{}
\panel{229}{660.3}{psd jsd theta}{Distance}{0.0397}{0.1197}{0.04,0.06,0.08,0.10}{\dW}{}
\panel{431}{660.3}{psd jsd alpha}{Distance}{0.0527}{0.2067}{0.08,0.12,0.16,0.20}{\dX}{}
\panel{633}{660.3}{psd jsd beta}{Distance}{0.0602}{0.1622}{0.075,0.100,0.125,0.150}{\dY}{}
\panel{833}{660.3}{psd jsd gamma}{Distance}{0.0359}{0.1295}{0.04,0.06,0.08,0.10,0.12}{\dZ}{}
% row 7
\panel{27}{779}{psd corr delta}{Correlation}{0.731}{0.9976}{0.78,0.84,0.90,0.96}{\dAA}{}
\panel{229}{779}{psd corr theta}{Correlation}{0.118}{0.929}{0.2,0.4,0.6,0.8}{\dAB}{}
\panel{431}{779}{psd corr alpha}{Correlation}{-0.045}{0.778}{0.0,0.2,0.4,0.6}{\dAC}{}
\panel{633}{779}{psd corr beta}{Correlation}{0.6365}{0.962}{0.64,0.72,0.80,0.88,0.96}{\dAD}{}
\panel{833}{779}{psd corr gamma}{Correlation}{0.360}{0.985}{0.45,0.60,0.75,0.90}{\dAE}{}
% row 8
\panel{27}{898}{bandpower ratio delta}{Distance}{0.155}{0.3948}{0.20,0.25,0.30,0.35}{\dAF}{}
\panel{229}{898}{bandpower ratio theta}{Distance}{0.1227}{0.3676}{0.15,0.20,0.25,0.30,0.35}{\dAG}{}
\panel{431}{898}{bandpower ratio alpha}{Distance}{0.142}{0.5255}{0.16,0.24,0.32,0.40,0.48}{\dAH}{}
\panel{633}{898}{bandpower ratio beta}{Distance}{0.141}{0.3936}{0.18,0.24,0.30,0.36}{\dAI}{}
\panel{833}{898}{bandpower ratio gamma}{Distance}{0.1735}{0.606}{0.2,0.3,0.4,0.5,0.6}{\dAJ}{}
\end{tikzpicture}
\end{document}
